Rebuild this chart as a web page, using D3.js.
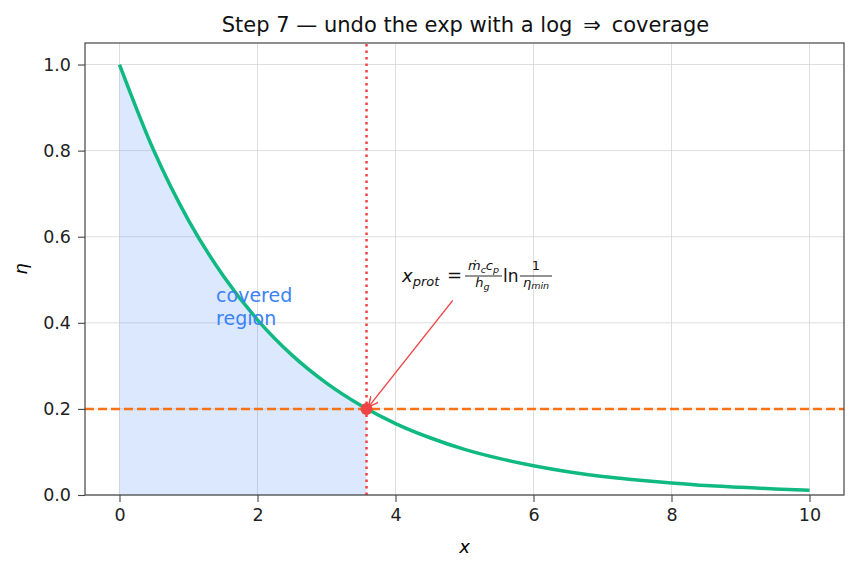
<!DOCTYPE html>
<html>
<head>
<meta charset="utf-8">
<script src="https://cdn.jsdelivr.net/npm/d3@7"></script>
<style>
  body { margin: 0; background: #fff; }
  svg { font-family: "DejaVu Sans", sans-serif; }
  .grid line { stroke: #d6d6d6; stroke-width: 0.8; }
</style>
</head>
<body>
<svg width="858" height="569"></svg>
<script>
// efficiency curve, every 0.5 in x
const xs = [0, 0.5, 1, 1.5, 2, 2.5, 3, 3.5, 4, 4.5, 5, 5.5, 6, 6.5, 7, 7.5, 8, 8.5, 9, 9.5, 10];
const eta = [1.0, 0.799, 0.638, 0.510, 0.407, 0.325, 0.260, 0.208, 0.166, 0.133, 0.106,
             0.085, 0.068, 0.054, 0.043, 0.035, 0.028, 0.022, 0.018, 0.014, 0.011];
const etaMin = 0.2;
const xProt = 3.58;
const xTicks = [0, 2, 4, 6, 8, 10];
const yTicks = [0.0, 0.2, 0.4, 0.6, 0.8, 1.0];

const svg = d3.select("svg");
const margin = { left: 85, right: 14, top: 43, bottom: 74 };
const width = 858, height = 569;

const x = d3.scaleLinear().domain([-0.5, 10.5]).range([margin.left, width - margin.right]);
const y = d3.scaleLinear().domain([0, 1.05]).range([height - margin.bottom, margin.top]);

const data = xs.map((d, i) => ({ x: d, y: eta[i] }));

// grid
svg.append("g").attr("class", "grid")
  .selectAll("line").data(xTicks).enter().append("line")
  .attr("x1", (d) => x(d)).attr("x2", (d) => x(d))
  .attr("y1", y.range()[0]).attr("y2", y.range()[1]);
svg.append("g").attr("class", "grid")
  .selectAll("line").data(yTicks).enter().append("line")
  .attr("x1", x.range()[0]).attr("x2", x.range()[1])
  .attr("y1", (d) => y(d)).attr("y2", (d) => y(d));

// covered region (curve up to x_prot)
const covered = data.filter((d) => d.x <= xProt);
covered.push({ x: xProt, y: etaMin });
svg.append("path")
  .datum(covered)
  .attr("fill", "#3b82f6")
  .attr("fill-opacity", 0.18)
  .attr("d", d3.area().x((d) => x(d.x)).y0(y(0)).y1((d) => y(d.y)).curve(d3.curveMonotoneX));

// reference lines
svg.append("line")
  .attr("x1", x.range()[0]).attr("x2", x.range()[1])
  .attr("y1", y(etaMin)).attr("y2", y(etaMin))
  .attr("stroke", "#f97316").attr("stroke-width", 2.5).attr("stroke-dasharray", "9,4");
svg.append("line")
  .attr("x1", x(xProt)).attr("x2", x(xProt))
  .attr("y1", y.range()[0]).attr("y2", y.range()[1])
  .attr("stroke", "#ef4444").attr("stroke-width", 2.5).attr("stroke-dasharray", "2.5,4");

// curve
svg.append("path")
  .datum(data)
  .attr("fill", "none")
  .attr("stroke", "#10b981")
  .attr("stroke-width", 3.5)
  .attr("d", d3.line().x((d) => x(d.x)).y((d) => y(d.y)).curve(d3.curveMonotoneX));

// point
svg.append("circle")
  .attr("cx", x(xProt)).attr("cy", y(etaMin)).attr("r", 6)
  .attr("fill", "#ef4444");

// arrow
svg.append("defs").append("marker")
  .attr("id", "arr").attr("viewBox", "0 0 10 10")
  .attr("refX", 10).attr("refY", 5)
  .attr("markerWidth", 10).attr("markerHeight", 10)
  .attr("markerUnits", "userSpaceOnUse")
  .attr("orient", "auto")
  .append("path").attr("d", "M0,0 L10,5 L0,10").attr("fill", "none")
  .attr("stroke", "#ef4444").attr("stroke-width", 1.5);
svg.append("line")
  .attr("x1", x(4.83)).attr("y1", y(0.452))
  .attr("x2", x(xProt) + 2).attr("y2", y(etaMin) - 2)
  .attr("stroke", "#ef4444").attr("stroke-width", 1.4)
  .attr("marker-end", "url(#arr)");

// formula annotation
const fx = 402, fb = 282;
const f = svg.append("g").attr("fill", "#111");
const t1 = f.append("text").attr("x", fx).attr("y", fb).attr("font-size", 18).attr("font-style", "italic");
t1.append("tspan").text("x");
t1.append("tspan").attr("font-size", 13).attr("dy", 4).text("prot");
f.append("text").attr("x", 447).attr("y", fb - 1).attr("font-size", 18).text("=");
// first fraction
const c1 = 483.5;
f.append("text").attr("x", c1).attr("y", 270).attr("font-size", 13)
  .attr("text-anchor", "middle").attr("font-style", "italic")
  .html("ṁ<tspan font-size='9.5' dy='2.5'>c</tspan><tspan dy='-2.5'>c</tspan><tspan font-size='9.5' dy='2.5'>p</tspan>");
f.append("line").attr("x1", 465).attr("x2", 502).attr("y1", 276).attr("y2", 276)
  .attr("stroke", "#111").attr("stroke-width", 0.9);
f.append("text").attr("x", c1 - 1).attr("y", 287).attr("font-size", 13)
  .attr("text-anchor", "middle").attr("font-style", "italic")
  .html("h<tspan font-size='9.5' dy='2.5'>g</tspan>");
f.append("text").attr("x", 503).attr("y", fb).attr("font-size", 17).text("ln");
// second fraction
const c2 = 536;
f.append("text").attr("x", c2).attr("y", 270).attr("font-size", 13)
  .attr("text-anchor", "middle").text("1");
f.append("line").attr("x1", 520).attr("x2", 552).attr("y1", 276).attr("y2", 276)
  .attr("stroke", "#111").attr("stroke-width", 0.9);
f.append("text").attr("x", c2).attr("y", 287).attr("font-size", 13)
  .attr("text-anchor", "middle").attr("font-style", "italic")
  .html("η<tspan font-size='9.5' dy='1.5'>min</tspan>");

// covered region label
const lab = svg.append("text").attr("y", 302)
  .attr("font-size", 19).attr("fill", "#3b82f6");
lab.append("tspan").attr("x", x(1.4)).text("covered");
lab.append("tspan").attr("x", x(1.4)).attr("dy", 22.5).text("region");

// axes
const xAxis = svg.append("g")
  .attr("transform", `translate(0,${y(0)})`)
  .call(d3.axisBottom(x).tickValues(xTicks).tickFormat(d3.format("d")).tickSize(7).tickPadding(7));
const yAxis = svg.append("g")
  .attr("transform", `translate(${x.range()[0]},0)`)
  .call(d3.axisLeft(y).tickValues(yTicks).tickFormat(d3.format(".1f")).tickSize(7).tickPadding(7));
[xAxis, yAxis].forEach((a) => {
  a.attr("font-size", 17.5).attr("font-family", "DejaVu Sans");
  a.select(".domain").remove();
  a.selectAll(".tick line").attr("stroke", "#444").attr("stroke-width", 1.1);
  a.selectAll(".tick text").attr("fill", "#222");
});

// frame
svg.append("rect")
  .attr("x", x.range()[0]).attr("y", y.range()[1])
  .attr("width", x.range()[1] - x.range()[0]).attr("height", y.range()[0] - y.range()[1])
  .attr("fill", "none").attr("stroke", "#444").attr("stroke-width", 1.2);

// labels
svg.append("text").attr("x", (x.range()[0] + x.range()[1]) / 2 + 1).attr("y", 32)
  .attr("text-anchor", "middle").attr("font-size", 21).attr("fill", "#111")
  .text("Step 7 \u2014 undo the exp with a log \u2009\u21D2\u2009 coverage");
svg.append("text").attr("x", x(5)).attr("y", 553)
  .attr("text-anchor", "middle").attr("font-size", 18).attr("font-style", "italic").text("x");
svg.append("text").attr("transform", `translate(27,${y(0.525)}) rotate(-90)`)
  .attr("text-anchor", "middle").attr("font-size", 18).attr("font-style", "italic").text("η");
</script>
</body>
</html>
